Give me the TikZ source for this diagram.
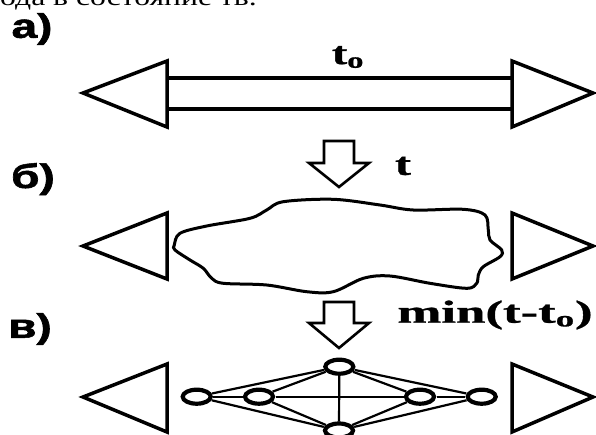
\documentclass[tikz,border=0pt]{standalone}
\usepackage{fontspec}
\setmainfont{Liberation Serif}
\newfontfamily\labfont[BoldFeatures={FakeBold=1.5}]{Liberation Sans}
\newfontfamily\mfont[BoldFeatures={FakeBold=0.8}]{Liberation Serif}
\usetikzlibrary{shapes.geometric}
\begin{document}
\begin{tikzpicture}[x=1pt,y=-1pt,
  tri/.style={line width=3.5pt, line join=miter},
  barline/.style={line width=3.5pt},
  blockarrow/.style={line width=2.6pt, line join=miter},
  blob/.style={line width=3pt},
  gnode/.style={ellipse, minimum width=33pt, minimum height=18pt, inner sep=0pt, outer sep=0pt},
  gring/.style={line width=4.2pt, fill=white},
  gedge/.style={line width=2.2pt},
  lab/.style={inner sep=0pt, font=\labfont\bfseries\fontsize{34}{38}\selectfont},
  mlab/.style={inner sep=0pt, font=\mfont\bfseries\fontsize{32}{36}\selectfont}
]
\useasboundingbox (0,0) rectangle (596,434);
\clip (0,0) rectangle (596,434);

% clipped top line
\node[anchor=base west, inner sep=0pt, font=\fontsize{24}{28}\selectfont] (head) at (0,5) {\scalebox{1.32}[1]{ода в состояние тв.}};

% labels
\node[lab] (la) at (32,29) {\scalebox{1.35}[1]{а)}};
\node[lab] (lb) at (33,179) {\scalebox{1.35}[1]{б)}};
\node[lab] (lc) at (30,329) {\scalebox{1.35}[1]{в)}};

% row a
\draw[tri] (83,93) -- (167,61) -- (167,127) -- cycle;
\draw[tri] (593,93) -- (512,61) -- (512,127) -- cycle;
\draw[barline] (167,78) -- (512,78);
\draw[barline] (167,109) -- (512,109);
\node[mlab] (t0) at (348,57) {\scalebox{1.45}[1]{t\textsubscript{o}}};

% arrow 1
\draw[blockarrow] (324,141) -- (354,141) -- (354,163) -- (369,163) -- (339,187) -- (309,163) -- (324,163) -- cycle;
\node[mlab] (tl) at (403,166) {\scalebox{1.5}[1]{t}};

% row b
\draw[tri] (83,246) -- (167,213) -- (167,279) -- cycle;
\draw[tri] (593,246) -- (512,213) -- (512,279) -- cycle;
\draw[blob] plot[smooth cycle, tension=0.55] coordinates {
 (174.3,245) (180,233.3) (206.7,226) (250,218.3) (266.7,210) (283.3,201.7)
 (333.3,199.3) (380,205) (413.3,210) (463.3,209.3) (485,215) (488.3,230)
 (490,240) (501.7,250) (500,256.7) (483.3,266.7) (478.3,275) (476.7,283.3)
 (466.7,288.3) (430,283.3) (390,276) (363.3,278.3) (333.3,291.7) (306.7,291.7)
 (266.7,285) (223.3,283.3) (211.7,278.3) (203.3,268.3) (190,260) (175,250)};

% arrow 2
\draw[blockarrow] (324,302) -- (354,302) -- (354,323) -- (369,323) -- (339,348) -- (309,323) -- (324,323) -- cycle;
\node[mlab] (ml) at (495,315) {\scalebox{1.65}[1]{min(t-t\textsubscript{o})}};

% row c
\draw[tri] (83,397) -- (167,364) -- (167,432) -- cycle;
\draw[tri] (593,397) -- (512,364) -- (512,432) -- cycle;

\node[gnode] (gt) at (339.3,366.7) {};
\node[gnode] (g1) at (196.7,396.7) {};
\node[gnode] (g2) at (259,396.7) {};
\node[gnode] (g3) at (420,396.7) {};
\node[gnode] (g4) at (481.7,396.7) {};
\node[gnode] (gb) at (339,430.5) {};

\draw[gedge] (gt) -- (g1);
\draw[gedge] (gt) -- (g2);
\draw[gedge] (gt) -- (g3);
\draw[gedge] (gt) -- (g4);
\draw[gedge] (gt) -- (gb);
\draw[gedge] (g1) -- (g2);
\draw[gedge] (g2) -- (g3);
\draw[gedge] (g3) -- (g4);
\draw[gedge] (gb) -- (g1);
\draw[gedge] (gb) -- (g2);
\draw[gedge] (gb) -- (g3);
\draw[gedge] (gb) -- (g4);

\foreach \n in {gt,g1,g2,g3,g4,gb}
  \draw[gring] (\n.center) ellipse [x radius=14pt, y radius=7pt];
\end{tikzpicture}
\end{document}
